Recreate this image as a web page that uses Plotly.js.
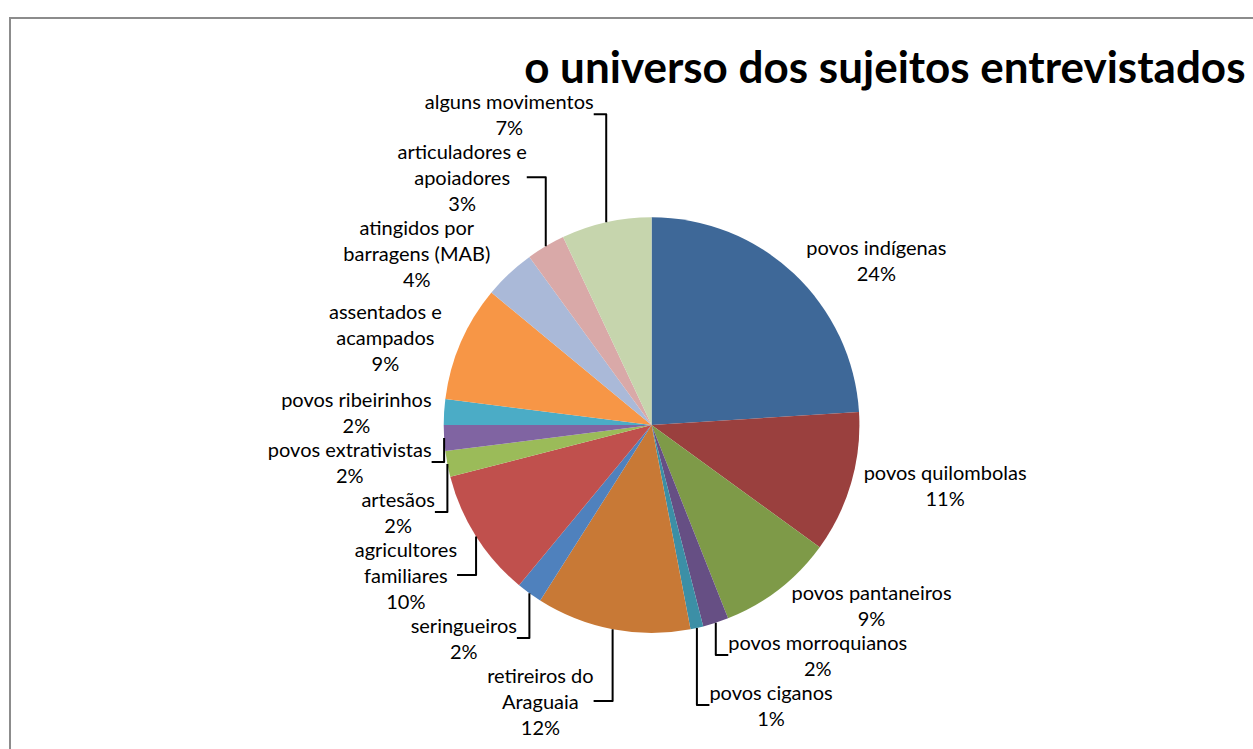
<!DOCTYPE html>
<html>
<head>
<meta charset="utf-8">
<script src="https://cdn.plot.ly/plotly-3.0.1.min.js"></script>
<style>
  html, body { margin: 0; padding: 0; background: #ffffff; overflow: hidden; }
  #frame { position: absolute; left: 9px; top: 17px; width: 1260px; height: 760px; border: 2px solid #8c8c8c; box-sizing: border-box; }
  #chart { position: absolute; left: 0; top: 0; width: 1253px; height: 749px; }
</style>
</head>
<body>
<div id="frame"></div>
<div id="chart"></div>
<script>
// Categories, clockwise from 12 o'clock
const categories = [
  "povos indígenas",
  "povos quilombolas",
  "povos pantaneiros",
  "povos morroquianos",
  "povos ciganos",
  "retireiros do Araguaia",
  "seringueiros",
  "agricultores familiares",
  "artesãos",
  "povos extrativistas",
  "povos ribeirinhos",
  "assentados e acampados",
  "atingidos por barragens (MAB)",
  "articuladores e apoiadores",
  "alguns movimentos"
];
// Display labels (with line breaks as in the reference)
const displayLabels = [
  "povos indígenas",
  "povos quilombolas",
  "povos pantaneiros",
  "povos morroquianos",
  "povos ciganos",
  "retireiros do<br>Araguaia",
  "seringueiros",
  "agricultores<br>familiares",
  "artesãos",
  "povos extrativistas",
  "povos ribeirinhos",
  "assentados e<br>acampados",
  "atingidos por<br>barragens (MAB)",
  "articuladores e<br>apoiadores",
  "alguns movimentos"
];
// Percent shares
const shares = [24, 11, 9, 2, 1, 12, 2, 10, 2, 2, 2, 9, 4, 3, 7];

const colors = [
  "#3E6898", "#9A403E", "#7E9A48", "#664F84", "#3C8FA6", "#C87936",
  "#4F81BD", "#C0504D", "#9BBB59", "#8064A2", "#4BACC6", "#F79646",
  "#AAB9D8", "#D9A9A8", "#C6D5AD"
];

const data = [{
  type: "pie",
  values: shares,
  labels: categories,
  text: displayLabels.map((t, i) => t + "<br>" + shares[i] + "%"),
  textinfo: "text",
  textposition: "outside",
  sort: false,
  direction: "clockwise",
  rotation: 0,
  marker: { colors: colors, line: { width: 0 } },
  outsidetextfont: { family: "Lato, 'Open Sans', sans-serif", size: 20, color: "#000000" },
  automargin: false,
  domain: { x: [0.2, 0.84], y: [0.155, 0.71] },
  showlegend: false,
  hoverinfo: "label+percent"
}];

const layout = {
  width: 1253,
  height: 749,
  paper_bgcolor: "rgba(0,0,0,0)",
  plot_bgcolor: "rgba(0,0,0,0)",
  margin: { l: 0, r: 0, t: 0, b: 0 },
  showlegend: false,
  title: {
    text: "<b>o universo dos sujeitos entrevistados</b>",
    font: { family: "Lato, 'Open Sans', sans-serif", size: 44, color: "#000000" },
    x: 0.994, xanchor: "right", xref: "paper",
    y: 0.91, yanchor: "middle", yref: "container"
  }
};

Plotly.newPlot("chart", data, layout, { displayModeBar: false, staticPlot: true });
</script>
</body>
</html>
